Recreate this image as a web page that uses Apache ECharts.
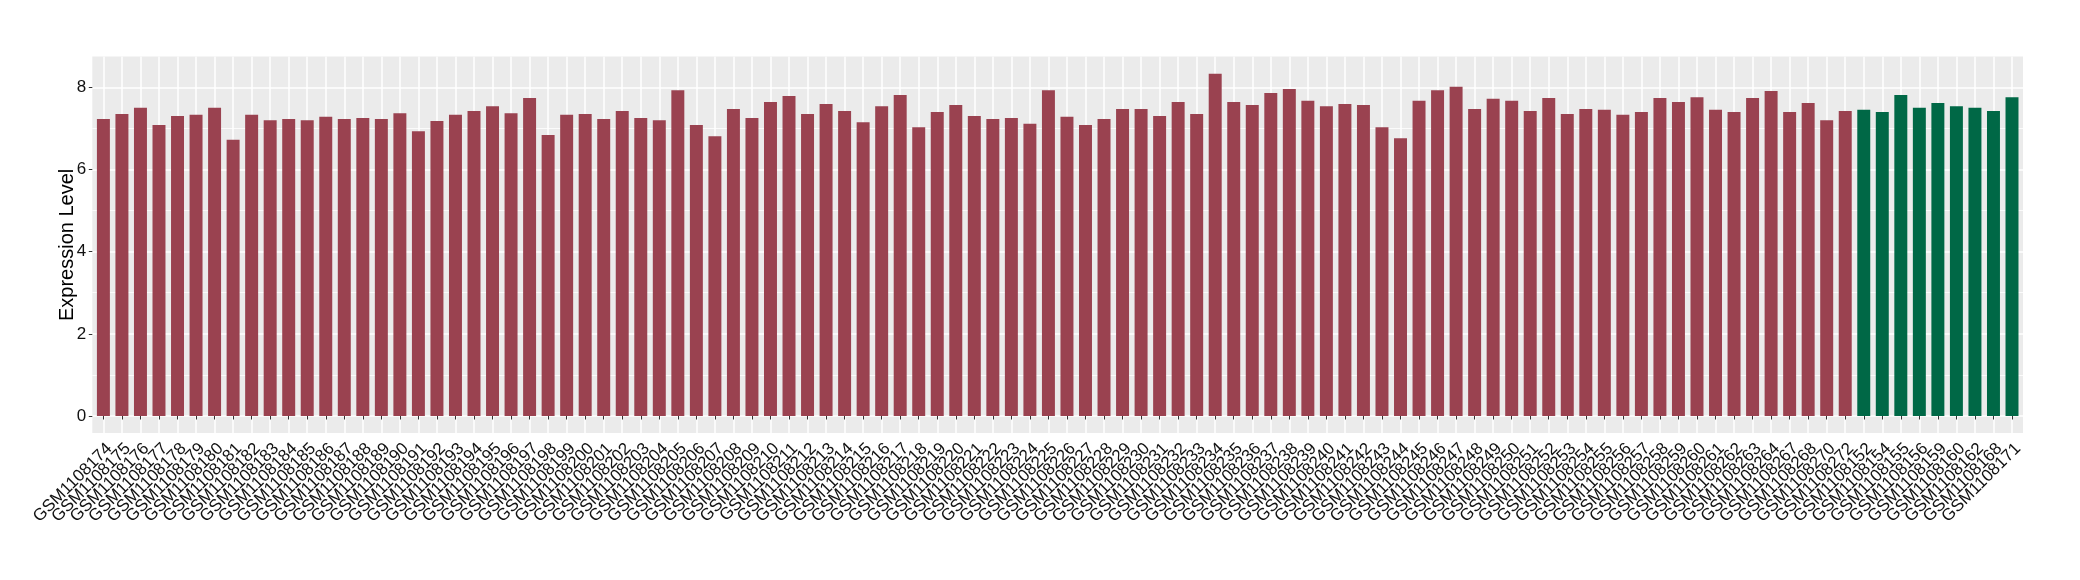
<!DOCTYPE html>
<html>
<head>
<meta charset="utf-8">
<script src="https://cdn.jsdelivr.net/npm/echarts@6/dist/echarts.min.js"></script>
<style>
  html, body { margin: 0; padding: 0; background: #fff; }
  #main { width: 2080px; height: 580px; }
</style>
</head>
<body>
<div id="main"></div>
<script>
// samples shown in red
var redSamples = [
  'GSM1108174', 'GSM1108175', 'GSM1108176', 'GSM1108177', 'GSM1108178', 'GSM1108179', 'GSM1108180', 'GSM1108181',
  'GSM1108182', 'GSM1108183', 'GSM1108184', 'GSM1108185', 'GSM1108186', 'GSM1108187', 'GSM1108188', 'GSM1108189',
  'GSM1108190', 'GSM1108191', 'GSM1108192', 'GSM1108193', 'GSM1108194', 'GSM1108195', 'GSM1108196', 'GSM1108197',
  'GSM1108198', 'GSM1108199', 'GSM1108200', 'GSM1108201', 'GSM1108202', 'GSM1108203', 'GSM1108204', 'GSM1108205',
  'GSM1108206', 'GSM1108207', 'GSM1108208', 'GSM1108209', 'GSM1108210', 'GSM1108211', 'GSM1108212', 'GSM1108213',
  'GSM1108214', 'GSM1108215', 'GSM1108216', 'GSM1108217', 'GSM1108218', 'GSM1108219', 'GSM1108220', 'GSM1108221',
  'GSM1108222', 'GSM1108223', 'GSM1108224', 'GSM1108225', 'GSM1108226', 'GSM1108227', 'GSM1108228', 'GSM1108229',
  'GSM1108230', 'GSM1108231', 'GSM1108232', 'GSM1108233', 'GSM1108234', 'GSM1108235', 'GSM1108236', 'GSM1108237',
  'GSM1108238', 'GSM1108239', 'GSM1108240', 'GSM1108241', 'GSM1108242', 'GSM1108243', 'GSM1108244', 'GSM1108245',
  'GSM1108246', 'GSM1108247', 'GSM1108248', 'GSM1108249', 'GSM1108250', 'GSM1108251', 'GSM1108252', 'GSM1108253',
  'GSM1108254', 'GSM1108255', 'GSM1108256', 'GSM1108257', 'GSM1108258', 'GSM1108259', 'GSM1108260', 'GSM1108261',
  'GSM1108262', 'GSM1108263', 'GSM1108264', 'GSM1108267', 'GSM1108268', 'GSM1108270', 'GSM1108272'
];
var redValues = [
  7.23, 7.35, 7.50, 7.08, 7.30, 7.33, 7.50, 6.72, 7.33, 7.20, 7.23, 7.20, 7.28, 7.23, 7.25, 7.23, 7.37, 6.93,
  7.18, 7.33, 7.42, 7.54, 7.37, 7.74, 6.84, 7.33, 7.35, 7.23, 7.42, 7.25, 7.20, 7.93, 7.08, 6.81, 7.47, 7.25,
  7.64, 7.79, 7.35, 7.59, 7.42, 7.15, 7.54, 7.81, 7.03, 7.40, 7.57, 7.30, 7.23, 7.25, 7.11, 7.93, 7.28, 7.08,
  7.23, 7.47, 7.47, 7.30, 7.64, 7.35, 8.33, 7.64, 7.57, 7.86, 7.96, 7.67, 7.54, 7.59, 7.57, 7.03, 6.76, 7.67,
  7.93, 8.01, 7.47, 7.72, 7.67, 7.42, 7.74, 7.35, 7.47, 7.45, 7.33, 7.40, 7.74, 7.64, 7.76, 7.45, 7.40, 7.74,
  7.91, 7.40, 7.62, 7.20, 7.42
];

// samples shown in green
var greenSamples = [
  'GSM1108152', 'GSM1108154', 'GSM1108155', 'GSM1108156', 'GSM1108159',
  'GSM1108160', 'GSM1108162', 'GSM1108168', 'GSM1108171'
];
var greenValues = [7.45, 7.40, 7.81, 7.50, 7.62, 7.54, 7.50, 7.42, 7.76];

var yTicks = [0, 2, 4, 6, 8];

var categories = redSamples.concat(greenSamples);
var redData = redValues.concat(greenSamples.map(function () { return null; }));
var greenData = redSamples.map(function () { return null; }).concat(greenValues);

// ggplot style panel range (5% padding around 0..max)
var dataMax = Math.max.apply(null, redValues.concat(greenValues));
var pad = dataMax * 0.05;

var myChart = echarts.init(document.getElementById('main'));
var option = {
  animation: false,
  textStyle: { fontFamily: 'Liberation Sans, Arial, sans-serif' },
  grid: [
    // panel background
    { left: 92.3, right: 57, top: 56.6, bottom: 146.9, show: true, backgroundColor: '#EBEBEB', borderWidth: 0, z: -1 },
    // horizontal grid lines + y labels
    { left: 92.3, right: 57, top: 87.3, bottom: 164, show: false },
    // bars
    { left: 103.4, right: 68, top: 56.6, bottom: 146.9, show: false }
  ],
  xAxis: [
    { gridIndex: 0, type: 'category', data: categories, show: false },
    { gridIndex: 1, type: 'category', data: categories, show: false },
    {
      gridIndex: 2,
      type: 'category',
      data: categories,
      boundaryGap: false,
      axisLine: { show: false },
      axisTick: { show: true, length: 3.5, lineStyle: { color: '#333', width: 1 } },
      splitLine: { show: true, lineStyle: { color: '#fff', width: 1.5 } },
      axisLabel: {
        interval: 0,
        rotate: 45,
        margin: 7,
        align: 'right',
        verticalAlign: 'top',
        fontSize: 17,
        color: '#111'
      }
    }
  ],
  yAxis: [
    {
      gridIndex: 0,
      type: 'value',
      min: -pad,
      max: dataMax + pad,
      name: 'Expression Level',
      nameLocation: 'middle',
      nameGap: 15,
      nameTextStyle: { fontSize: 20, color: '#000' },
      axisLine: { show: false },
      axisTick: { show: false },
      axisLabel: { show: false },
      splitLine: { show: false }
    },
    {
      gridIndex: 1,
      type: 'value',
      min: yTicks[0],
      max: yTicks[yTicks.length - 1],
      interval: 2,
      axisLine: { show: false },
      axisTick: { show: true, length: 3.5, lineStyle: { color: '#333', width: 1 } },
      axisLabel: { margin: 6, fontSize: 17, color: '#111' },
      splitLine: { show: true, lineStyle: { color: '#fff', width: 1.5 } },
      minorTick: { show: false, splitNumber: 2 },
      minorSplitLine: { show: true, lineStyle: { color: '#fff', width: 0.8 } }
    },
    {
      gridIndex: 2,
      type: 'value',
      min: -pad,
      max: dataMax + pad,
      show: false
    }
  ],
  series: [
    {
      name: 'red',
      type: 'bar',
      xAxisIndex: 2,
      yAxisIndex: 2,
      data: redData,
      barWidth: '70%',
      barGap: '-100%',
      clip: false,
      itemStyle: { color: '#9A4250' }
    },
    {
      name: 'green',
      type: 'bar',
      xAxisIndex: 2,
      yAxisIndex: 2,
      data: greenData,
      barWidth: '70%',
      barGap: '-100%',
      clip: false,
      itemStyle: { color: '#006846' }
    }
  ]
};
myChart.setOption(option);
</script>
</body>
</html>
